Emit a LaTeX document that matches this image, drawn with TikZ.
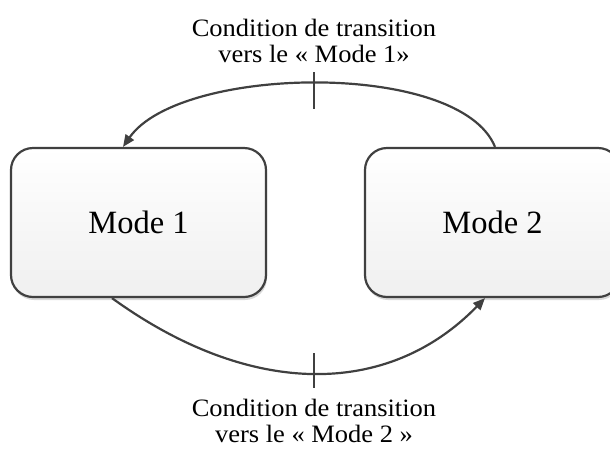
\documentclass[tikz,border=0pt]{standalone}
\usepackage{fontspec}
\setmainfont{Liberation Serif}
\newfontfamily\lblfont[FakeStretch=1.06]{Liberation Serif}
\usetikzlibrary{arrows.meta,shadows,calc}
\definecolor{edge}{HTML}{404040}
\tikzset{
  modebox/.style={draw=edge, line width=2.2pt, rounded corners=22pt,
    minimum width=255pt, minimum height=149pt,
    top color=white, bottom color=black!6,
    drop shadow={shadow xshift=1pt, shadow yshift=-3pt, fill=black!25, opacity=0.6},
    font=\fontsize{32.5pt}{36pt}\selectfont},
  link/.style={draw=edge, line width=2.2pt, -{Triangle[length=12pt,width=10pt]}},
  tick/.style={draw=edge, line width=2.2pt},
  lbl/.style={align=center, inner sep=0pt, font=\lblfont\fontsize{25pt}{25.5pt}\selectfont}
}
\begin{document}
\begin{tikzpicture}[x=1pt,y=-1pt]
\useasboundingbox (0,0) rectangle (610,448);
\clip (0,0) rectangle (610,448);
\node[modebox] (m1) at (138.5,222.5) {Mode 1};
\node[modebox] (m2) at (492.5,222.5) {Mode 2};
% top arc: Mode 2 -> Mode 1
\draw[link] ([xshift=2.5pt]m2.north) .. controls (460,60) and (180,65) .. ([xshift=-15.5pt]m1.north);
% bottom arc: Mode 1 -> Mode 2
\draw[link] ([xshift=-26.5pt]m1.south) .. controls (250,398) and (388,398) .. ([xshift=-7.5pt]m2.south);
\coordinate (t1a) at (314,72);
\coordinate (t1b) at (314,109);
\coordinate (t2a) at (314,353);
\coordinate (t2b) at (314,388);
\draw[tick] (t1a) -- (t1b);
\draw[tick] (t2a) -- (t2b);
\node[lbl] (c1) at (314,41) {Condition de transition\\vers le « Mode 1»};
\node[lbl] (c2) at (314,421) {Condition de transition\\vers le « Mode 2 »};
\end{tikzpicture}
\end{document}
